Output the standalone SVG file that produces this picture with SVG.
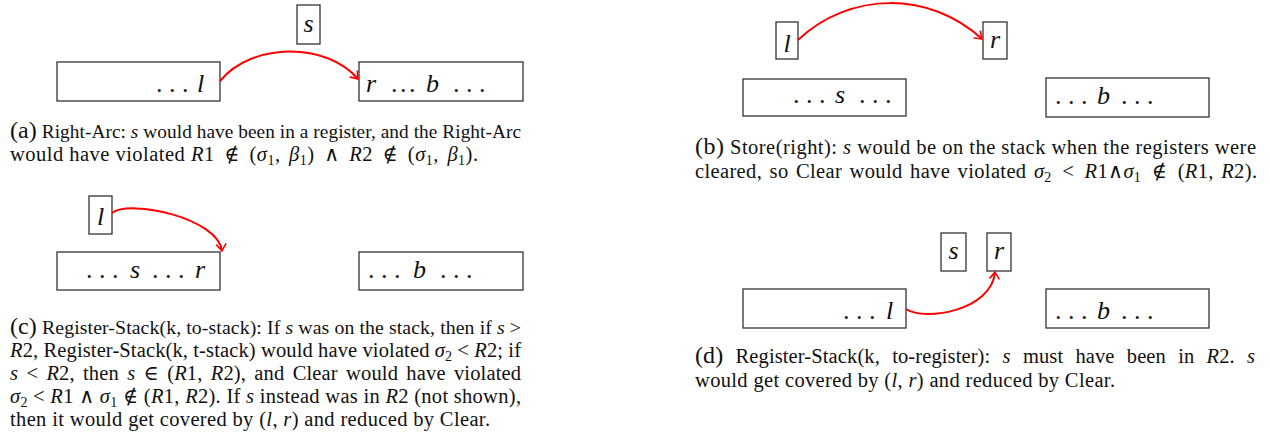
<svg xmlns="http://www.w3.org/2000/svg" width="1270" height="441" viewBox="0 0 1270 441">
<defs>
<style>
.bg{fill:#fff}
.box{fill:#fff;stroke:#333;stroke-width:1.3}
.lab{font-family:"Liberation Serif","DejaVu Serif",serif;font-size:26px;font-style:italic;fill:#111}
.dots{font-style:normal}
.tight{letter-spacing:-2px}
.arc{fill:none;stroke:#f00;stroke-width:2;marker-end:url(#ah)}
.cap{font-family:"Liberation Serif","DejaVu Serif",serif;font-size:20.5px;fill:#111}
.lbl{font-size:24px}
.m{font-style:italic}
.sub{font-size:14px}
</style>
<marker id="ah" viewBox="-8 -6 9 12" markerWidth="9" markerHeight="12" refX="0" refY="0" orient="auto" markerUnits="userSpaceOnUse">
<path d="M-7,-5 Q-2,-1.2 0,0 Q-2,1.2 -7,5" fill="none" stroke="#f00" stroke-width="1.6"/>
</marker>
</defs>
<rect class="bg" x="0" y="0" width="1270" height="441"/>

<!-- Panel (a) -->
<g id="a-left"><rect class="box" x="57" y="62" width="163" height="39"/>
<text class="lab" y="92"><tspan class="dots" x="156">. . .</tspan><tspan x="197">l</tspan></text></g>
<g id="a-right"><rect class="box" x="359" y="62" width="164" height="39"/>
<text class="lab" y="92"><tspan x="366">r</tspan><tspan class="dots tight" x="391">. . .</tspan><tspan x="426">b</tspan><tspan class="dots" x="453">. . .</tspan></text></g>
<g id="a-s"><rect class="box" x="297" y="5" width="23" height="39"/>
<text class="lab" x="308.5" y="32" text-anchor="middle">s</text></g>

<!-- Panel (c) -->
<g id="c-left"><rect class="box" x="57" y="252" width="163" height="38"/>
<text class="lab" y="278"><tspan class="dots" x="86">. . .</tspan><tspan x="130">s</tspan><tspan class="dots" x="152">. . .</tspan><tspan x="195">r</tspan></text></g>
<g id="c-right"><rect class="box" x="359" y="252" width="164" height="38"/>
<text class="lab" y="278"><tspan class="dots" x="368">. . .</tspan><tspan x="413">b</tspan><tspan class="dots" x="440">. . .</tspan></text></g>
<g id="c-l"><rect class="box" x="89" y="196" width="23" height="38"/>
<text class="lab" x="100.5" y="225" text-anchor="middle">l</text></g>

<!-- Panel (b) -->
<g id="b-left"><rect class="box" x="743" y="79" width="163" height="37"/>
<text class="lab" y="103"><tspan class="dots" x="793">. . .</tspan><tspan x="835">s</tspan><tspan class="dots" x="859">. . .</tspan></text></g>
<g id="b-right"><rect class="box" x="1046" y="78" width="163" height="39"/>
<text class="lab" y="104"><tspan class="dots" x="1055">. . .</tspan><tspan x="1097">b</tspan><tspan class="dots" x="1121">. . .</tspan></text></g>
<g id="b-l"><rect class="box" x="776" y="22" width="22" height="37"/>
<text class="lab" x="787" y="52" text-anchor="middle">l</text></g>
<g id="b-r"><rect class="box" x="983" y="22" width="24" height="37"/>
<text class="lab" x="995" y="48" text-anchor="middle">r</text></g>

<!-- Panel (d) -->
<g id="d-left"><rect class="box" x="743" y="289" width="163" height="39"/>
<text class="lab" y="319"><tspan class="dots" x="843">. . .</tspan><tspan x="886">l</tspan></text></g>
<g id="d-right"><rect class="box" x="1046" y="289" width="163" height="39"/>
<text class="lab" y="319"><tspan class="dots" x="1055">. . .</tspan><tspan x="1097">b</tspan><tspan class="dots" x="1121">. . .</tspan></text></g>
<g id="d-s"><rect class="box" x="941" y="233" width="25" height="38"/>
<text class="lab" x="953.5" y="259" text-anchor="middle">s</text></g>
<g id="d-r"><rect class="box" x="987" y="233" width="24" height="38"/>
<text class="lab" x="999" y="259" text-anchor="middle">r</text></g>

<!-- Connectors -->
<g id="connectors">
<path class="arc" d="M220,81 C252,42 327,42 358,79"/>
<path class="arc" d="M112,213 C130,199 218,218 222,251"/>
<path class="arc" d="M798,40 C850,-9 930,-9 982,39"/>
<path class="arc" d="M906,309 C925,322 992,310 995,272"/>
</g>

<!-- Captions -->
<g id="caption-a">
<text class="cap" x="10" y="138" style="font-size:19.3px" textLength="511" lengthAdjust="spacing"><tspan class="lbl">(a)</tspan> Right-Arc: <tspan class="m">s</tspan> would have been in a register, and the Right-Arc</text>
<text class="cap" x="10" y="161" textLength="468" lengthAdjust="spacing">would have violated <tspan class="m">R</tspan>1 <tspan dx="4">∉</tspan> <tspan dx="4">(</tspan><tspan class="m">σ</tspan><tspan class="sub" dy="4">1</tspan><tspan dy="-4">, </tspan><tspan class="m" dx="3">β</tspan><tspan class="sub" dy="4">1</tspan><tspan dy="-4">) </tspan><tspan dx="4">∧</tspan> <tspan class="m" dx="4">R</tspan>2 <tspan dx="4">∉</tspan> <tspan dx="4">(</tspan><tspan class="m">σ</tspan><tspan class="sub" dy="4">1</tspan><tspan dy="-4">, </tspan><tspan class="m" dx="3">β</tspan><tspan class="sub" dy="4">1</tspan><tspan dy="-4">).</tspan></text>
</g>

<g id="caption-c">
<text class="cap" x="10" y="334" style="font-size:19.8px" textLength="511" lengthAdjust="spacing"><tspan class="lbl">(c)</tspan> Register-Stack(k, to-stack): If <tspan class="m">s</tspan> was on the stack, then if <tspan class="m">s</tspan> &gt;</text>
<text class="cap" x="10" y="357" textLength="511" lengthAdjust="spacing"><tspan class="m">R</tspan>2, Register-Stack(k, t-stack) would have violated <tspan class="m">σ</tspan><tspan class="sub" dy="4">2</tspan><tspan dy="-4"> &lt; </tspan><tspan class="m">R</tspan>2; if</text>
<text class="cap" x="10" y="380" style="word-spacing:3px" textLength="511" lengthAdjust="spacing"><tspan class="m">s</tspan> &lt; <tspan class="m">R</tspan>2, then <tspan class="m">s</tspan> ∈ (<tspan class="m">R</tspan>1, <tspan class="m">R</tspan>2), and Clear would have violated</text>
<text class="cap" x="10" y="403" textLength="511" lengthAdjust="spacing"><tspan class="m">σ</tspan><tspan class="sub" dy="4">2</tspan><tspan dy="-4"> &lt; </tspan><tspan class="m">R</tspan>1 ∧ <tspan class="m">σ</tspan><tspan class="sub" dy="4">1</tspan><tspan dy="-4"> ∉ (</tspan><tspan class="m">R</tspan>1, <tspan class="m">R</tspan>2). If <tspan class="m">s</tspan> instead was in <tspan class="m">R</tspan>2 (not shown),</text>
<text class="cap" x="10" y="426" textLength="480" lengthAdjust="spacing">then it would get covered by (<tspan class="m">l</tspan>, <tspan class="m">r</tspan>) and reduced by Clear.</text>
</g>

<g id="caption-b">
<text class="cap" x="695" y="154" textLength="561" lengthAdjust="spacing"><tspan class="lbl">(b)</tspan> Store(right): <tspan class="m">s</tspan> would be on the stack when the registers were</text>
<text class="cap" x="695" y="178" style="word-spacing:2px" textLength="562" lengthAdjust="spacing">cleared, so Clear would have violated <tspan class="m">σ</tspan><tspan class="sub" dy="4">2</tspan><tspan dy="-4"> <tspan dx="3">&lt;</tspan> </tspan><tspan class="m" dx="3">R</tspan>1∧<tspan class="m">σ</tspan><tspan class="sub" dy="4">1</tspan><tspan dy="-4"> <tspan dx="3">∉</tspan> <tspan dx="3">(</tspan></tspan><tspan class="m">R</tspan>1, <tspan class="m">R</tspan>2).</text>
</g>

<g id="caption-d">
<text class="cap" x="695" y="363" style="word-spacing:7px" textLength="560" lengthAdjust="spacing"><tspan class="lbl">(d)</tspan> Register-Stack(k, to-register): <tspan class="m">s</tspan> must have been in <tspan class="m">R</tspan>2. <tspan class="m">s</tspan></text>
<text class="cap" x="695" y="387" textLength="420" lengthAdjust="spacing">would get covered by (<tspan class="m">l</tspan>, <tspan class="m">r</tspan>) and reduced by Clear.</text>
</g>
</svg>
